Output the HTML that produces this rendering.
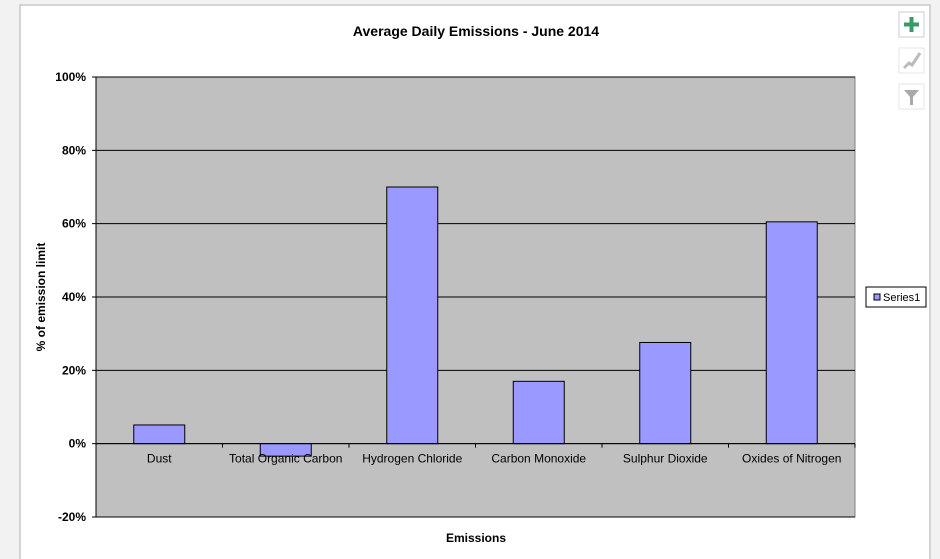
<!DOCTYPE html>
<html><head><meta charset="utf-8"><style>
body{margin:0;background:#f2f2f2;font-family:"Liberation Sans",Arial,sans-serif;}
svg{display:block}
</style></head><body>
<svg id="chart" width="940" height="559">
<rect x="0" y="0" width="940" height="559" fill="#f2f2f2"/>
<rect x="20" y="5" width="910" height="560" fill="#fff" stroke="#d4d4d4" stroke-width="2"/>
<text x="476" y="36" text-anchor="middle" font-size="14" font-weight="bold">Average Daily Emissions - June 2014</text>
<g id="plot"></g>
<text x="476" y="542" text-anchor="middle" font-size="12" font-weight="bold">Emissions</text>
<text transform="translate(45,297) rotate(-90)" text-anchor="middle" font-size="12" font-weight="bold">% of emission limit</text>
<g>
<rect x="866" y="287" width="60" height="20" fill="#fff" stroke="#000" stroke-width="1"/>
<rect x="874" y="294" width="6" height="6" fill="#9999ff" stroke="#000" stroke-width="1"/>
<text x="883" y="301" font-size="11">Series1</text>
</g>
<g><rect x="899" y="12" width="25" height="25" fill="#fff" stroke="#ccc"/><path d="M911.5 17v15M904 24.5h15" stroke="#3a9a6a" stroke-width="4"/></g>
<g><rect x="899" y="48" width="25" height="25" fill="#fff" stroke="#e4e4e4"/><path d="M904 68l5-5l3 2l8-12" stroke="#bbb" stroke-width="3" fill="none"/></g>
<g><rect x="899" y="84" width="25" height="25" fill="#fff" stroke="#e4e4e4"/><path d="M904 90h15l-6 7v8h-3v-8z" fill="#aaa"/></g>
</svg>
<script>
const categories=["Dust","Total Organic Carbon","Hydrogen Chloride","Carbon Monoxide","Sulphur Dioxide","Oxides of Nitrogen"];
const values=[5.1,-3.4,70,17,27.6,60.5];
const yTicks=[-20,0,20,40,60,80,100];
const NS="http://www.w3.org/2000/svg";
const g=document.getElementById('plot');
const X0=96,X1=855,Y0=77,Y1=517,ymin=-20,ymax=100;
const y=v=>Y1-(v-ymin)/(ymax-ymin)*(Y1-Y0);
const bw=(X1-X0)/categories.length;
function mk(t,a,p){const e=document.createElementNS(NS,t);for(const k in a)e.setAttribute(k,a[k]);(p||g).appendChild(e);return e;}
const pa=mk('rect',{x:X0,y:Y0,width:X1-X0,height:Y1-Y0,fill:'#c0c0c0',stroke:'#808080'});


yTicks.forEach(t=>{
 const l=mk('line',{x1:X0-4,x2:X1,y1:y(t),y2:y(t),stroke:'#000','stroke-width':1});
 
 
 const tx=mk('text',{x:X0-10,y:y(t)+4,'text-anchor':'end','font-size':12,'font-weight':'bold'});
 tx.textContent=t+'%';
 
 
});
values.forEach((v,i)=>{
 const cx=X0+bw*(i+0.5);
 const r=mk('rect',{x:cx-25.5,y:Math.min(y(v),y(0)),width:51,height:Math.abs(y(v)-y(0)),fill:'#9999ff',stroke:'#000','stroke-width':1});
 
 
});
const ax=mk('line',{x1:X0,x2:X1,y1:y(0),y2:y(0),stroke:'#000','stroke-width':1});


const ay=mk('line',{x1:X0,x2:X0,y1:Y0,y2:Y1,stroke:'#000','stroke-width':1});


categories.forEach((c,i)=>{
 const tk=mk('line',{x1:X0+bw*(i+1),x2:X0+bw*(i+1),y1:y(0),y2:y(0)+4,stroke:'#000'});
 
 
 const t=mk('text',{x:X0+bw*(i+0.5),y:y(0)+19,'text-anchor':'middle','font-size':12});
 t.textContent=c;
 
 
});
</script>
</body></html>
